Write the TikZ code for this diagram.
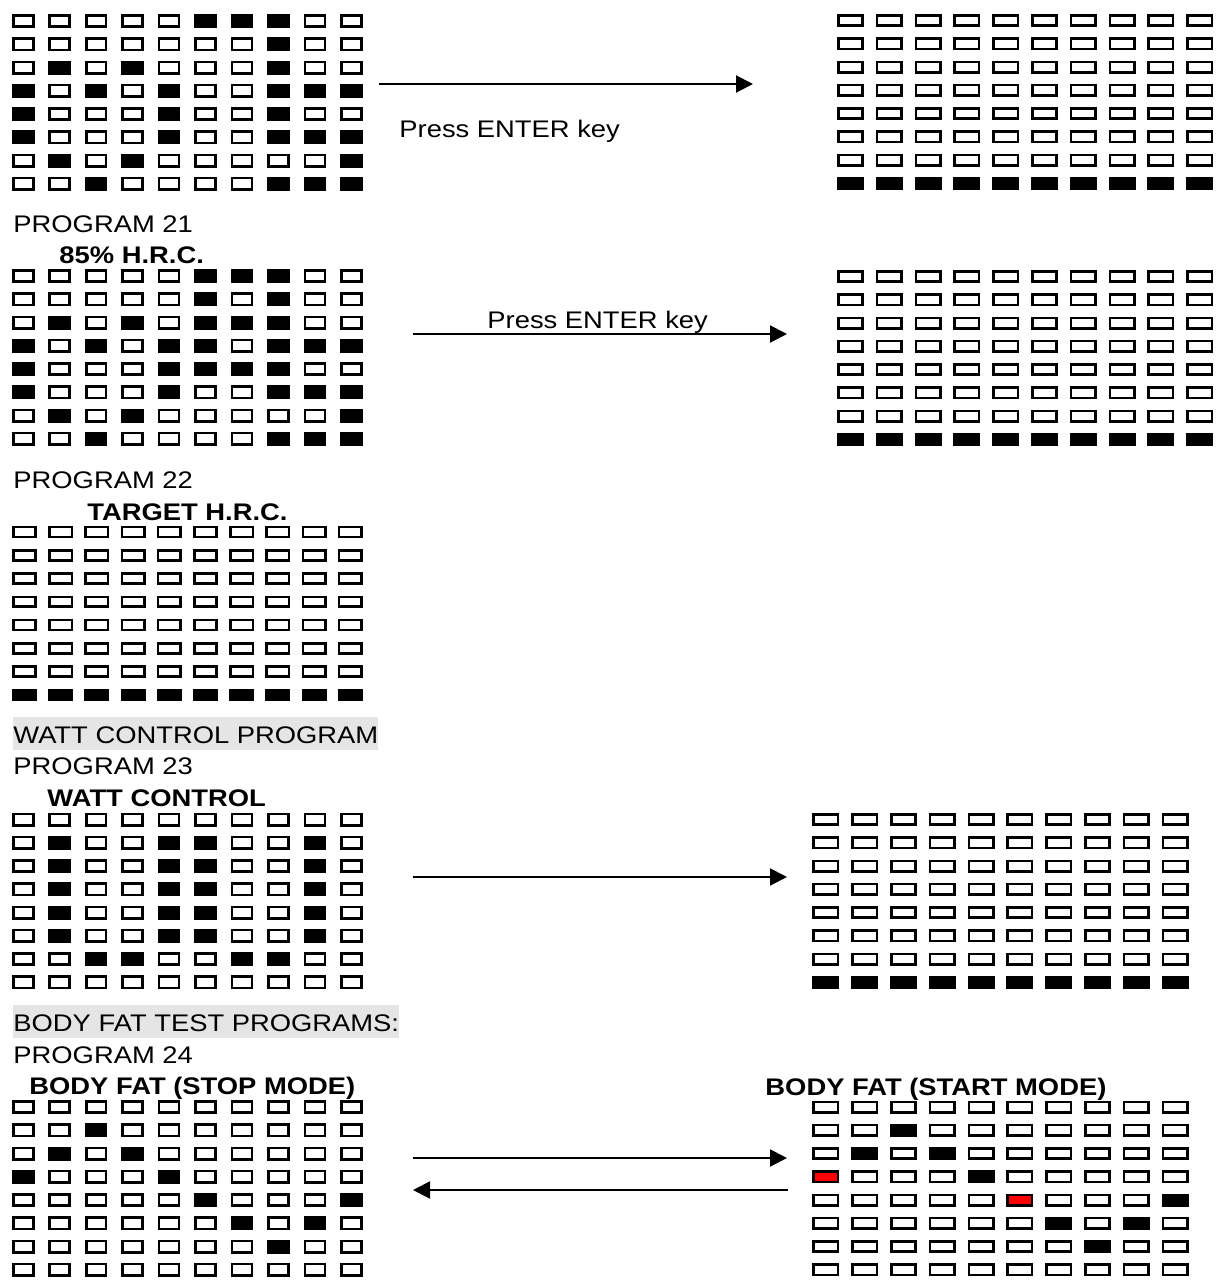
\documentclass[tikz,border=0pt]{standalone}
\usepackage{fontspec}
\setmainfont{Liberation Sans}
\usepackage{tikz}
\usetikzlibrary{arrows.meta}

% one LED panel: [size style]{name}{x of first centre}{y of first centre}{column step}{rows}
\newcommand{\ledgrid}[6][]{%
  \foreach \rw [count=\ri] in {#6} {
    \foreach \st [count=\ci] in \rw {
      \node[led\st, #1] (#2-\ri-\ci) at ({#3+(\ci-1)*#5}, {#4+(\ri-1)*23.25}) {};
    }
  }
}

\begin{document}
\begin{tikzpicture}[
        x=0.5pt, y=-0.5pt,
        led0/.style={rectangle, draw, line width=1.3pt, inner sep=0pt, minimum width=9.95pt, minimum height=5.7pt, fill=white},
        led1/.style={led0, fill=black},
        led2/.style={led0, fill=red},
        ledwide/.style={minimum width=12.2pt, minimum height=5.2pt},
        ledmid/.style={minimum width=11.2pt, minimum height=4.95pt},
        lbl/.style={anchor=base west, inner sep=0pt, xscale=1.14, font=\fontsize{12}{14}\selectfont},
        title/.style={lbl, font=\fontsize{12}{14}\selectfont\bfseries},
        band/.style={lbl, fill=gray!20, text height=13pt, text depth=3.5pt},
        arrow/.style={-{Triangle[length=8.5pt, width=8.5pt]}, line width=1pt},
    ]
    \useasboundingbox (0,0) rectangle (1226,1287);

    % program 20 (end)
    \ledgrid{p20}{23.25}{21}{36.45}{{0,0,0,0,0,1,1,1,0,0},{0,0,0,0,0,0,0,1,0,0},{0,1,0,1,0,0,0,1,0,0},{1,0,1,0,1,0,0,1,1,1},{1,0,0,0,1,0,0,1,0,0},{1,0,0,0,1,0,0,1,1,1},{0,1,0,1,0,0,0,0,0,1},{0,0,1,0,0,0,0,1,1,1}}
    \ledgrid[ledwide]{p20b}{850.5}{20.5}{38.8}{{0,0,0,0,0,0,0,0,0,0},{0,0,0,0,0,0,0,0,0,0},{0,0,0,0,0,0,0,0,0,0},{0,0,0,0,0,0,0,0,0,0},{0,0,0,0,0,0,0,0,0,0},{0,0,0,0,0,0,0,0,0,0},{0,0,0,0,0,0,0,0,0,0},{1,1,1,1,1,1,1,1,1,1}}
    \coordinate (a1-from) at (379,84);
    \coordinate (a1-to) at (753,84);
    \node[lbl] (enter1) at (399,137) {Press ENTER key};

    % program 21
    \node[lbl] (prog21) at (13,232) {PROGRAM 21};
    \node[title] (hrc85) at (59,263) {85\% H.R.C.};
    \ledgrid{p21}{23.25}{276}{36.45}{{0,0,0,0,0,1,1,1,0,0},{0,0,0,0,0,1,0,1,0,0},{0,1,0,1,0,1,1,1,0,0},{1,0,1,0,1,1,0,1,1,1},{1,0,0,0,1,1,1,1,0,0},{1,0,0,0,1,0,0,1,1,1},{0,1,0,1,0,0,0,0,0,1},{0,0,1,0,0,0,0,1,1,1}}
    \ledgrid[ledwide]{p21b}{850.5}{276.5}{38.8}{{0,0,0,0,0,0,0,0,0,0},{0,0,0,0,0,0,0,0,0,0},{0,0,0,0,0,0,0,0,0,0},{0,0,0,0,0,0,0,0,0,0},{0,0,0,0,0,0,0,0,0,0},{0,0,0,0,0,0,0,0,0,0},{0,0,0,0,0,0,0,0,0,0},{1,1,1,1,1,1,1,1,1,1}}
    \coordinate (a2-from) at (413,334);
    \coordinate (a2-to) at (787,334);
    \node[lbl] (enter2) at (487,328) {Press ENTER key};

    % program 22
    \node[lbl] (prog22) at (13,488) {PROGRAM 22};
    \node[title] (target) at (87,520) {TARGET H.R.C.};
    \ledgrid[ledmid]{p22}{24.5}{532}{36.2}{{0,0,0,0,0,0,0,0,0,0},{0,0,0,0,0,0,0,0,0,0},{0,0,0,0,0,0,0,0,0,0},{0,0,0,0,0,0,0,0,0,0},{0,0,0,0,0,0,0,0,0,0},{0,0,0,0,0,0,0,0,0,0},{0,0,0,0,0,0,0,0,0,0},{1,1,1,1,1,1,1,1,1,1}}

    % program 23
    \node[band] (watthead) at (13,743) {WATT CONTROL PROGRAM};
    \node[lbl] (prog23) at (13,774) {PROGRAM 23};
    \node[title] (watt) at (47,806) {WATT CONTROL};
    \ledgrid{p23}{23.25}{819.5}{36.45}{{0,0,0,0,0,0,0,0,0,0},{0,1,0,0,1,1,0,0,1,0},{0,1,0,0,1,1,0,0,1,0},{0,1,0,0,1,1,0,0,1,0},{0,1,0,0,1,1,0,0,1,0},{0,1,0,0,1,1,0,0,1,0},{0,0,1,1,0,0,1,1,0,0},{0,0,0,0,0,0,0,0,0,0}}
    \ledgrid[ledwide]{p23b}{825.8}{819.5}{38.8}{{0,0,0,0,0,0,0,0,0,0},{0,0,0,0,0,0,0,0,0,0},{0,0,0,0,0,0,0,0,0,0},{0,0,0,0,0,0,0,0,0,0},{0,0,0,0,0,0,0,0,0,0},{0,0,0,0,0,0,0,0,0,0},{0,0,0,0,0,0,0,0,0,0},{1,1,1,1,1,1,1,1,1,1}}
    \coordinate (a3-from) at (413,877);
    \coordinate (a3-to) at (787,877);

    % program 24
    \node[band] (fathead) at (13,1031) {BODY FAT TEST PROGRAMS:};
    \node[lbl] (prog24) at (13,1063) {PROGRAM 24};
    \node[title] (fatstop) at (29,1094) {BODY FAT (STOP MODE)};
    \node[title] (fatstart) at (765,1095) {BODY FAT (START MODE)};
    \ledgrid{p24}{23.25}{1107}{36.45}{{0,0,0,0,0,0,0,0,0,0},{0,0,1,0,0,0,0,0,0,0},{0,1,0,1,0,0,0,0,0,0},{1,0,0,0,1,0,0,0,0,0},{0,0,0,0,0,1,0,0,0,1},{0,0,0,0,0,0,1,0,1,0},{0,0,0,0,0,0,0,1,0,0},{0,0,0,0,0,0,0,0,0,0}}
    \ledgrid[ledwide]{p24b}{825.8}{1107}{38.8}{{0,0,0,0,0,0,0,0,0,0},{0,0,1,0,0,0,0,0,0,0},{0,1,0,1,0,0,0,0,0,0},{2,0,0,0,1,0,0,0,0,0},{0,0,0,0,0,2,0,0,0,1},{0,0,0,0,0,0,1,0,1,0},{0,0,0,0,0,0,0,1,0,0},{0,0,0,0,0,0,0,0,0,0}}
    \coordinate (a4-from) at (413,1158);
    \coordinate (a4-to) at (787,1158);
    \coordinate (a5-from) at (788,1190);
    \coordinate (a5-to) at (413,1190);

    \draw[arrow] (a1-from) -- (a1-to);
    \draw[arrow] (a2-from) -- (a2-to);
    \draw[arrow] (a3-from) -- (a3-to);
    \draw[arrow] (a4-from) -- (a4-to);
    \draw[arrow] (a5-from) -- (a5-to);

\end{tikzpicture}
\end{document}
